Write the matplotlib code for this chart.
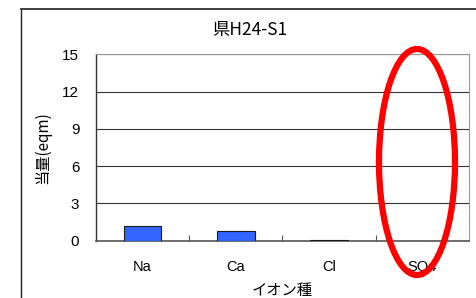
import matplotlib
matplotlib.use("Agg")
import matplotlib.pyplot as plt
from matplotlib.patches import Ellipse
from matplotlib.lines import Line2D

categories = ["Na", "Ca", "Cl", "SO4"]
values = [1.15, 0.8, 0.05, 0.0]
yticks = [0, 3, 6, 9, 12, 15]
title = "県H24-S1"
ylabel = "当量(eqm)"
xlabel = "イオン種"

jp = ["Noto Sans CJK JP", "DejaVu Sans"]
lat = ["Liberation Sans", "DejaVu Sans"]

fig = plt.figure(figsize=(4.77, 2.98), dpi=100)
ax = fig.add_axes([96/477, 1-240.7/298, (469-96)/477, (240.7-54.3)/298])

x = list(range(len(categories)))
ax.bar(x, values, width=0.4, color="#3366FF", edgecolor="#1a1a1a", linewidth=0.8, zorder=3)
ax.set_xlim(-0.5, len(categories)-0.5)
ax.set_ylim(0, 15)
ax.set_yticks(yticks)
ax.set_yticklabels([str(v) for v in yticks], fontfamily=lat, fontsize=11)
ax.yaxis.grid(True, color="#333333", linewidth=0.8)
ax.set_axisbelow(True)

# category boundary ticks
ax.set_xticks([i + 0.5 for i in range(len(categories)-1)], minor=False)
ax.set_xticklabels([])
ax.set_xticks(x, minor=True)
ax.set_xticklabels(categories, minor=True, fontfamily=lat, fontsize=10.5)
ax.tick_params(axis="x", which="major", direction="in", length=4, color="#555555")
ax.tick_params(axis="x", which="minor", length=0, pad=14)
ax.tick_params(axis="y", direction="out", length=0, pad=12)

for s in ["top", "right"]:
    ax.spines[s].set_color("#999999")
    ax.spines[s].set_linewidth(0.8)
ax.spines["bottom"].set_color("#555555")
ax.spines["bottom"].set_linewidth(1.2)
ax.spines["left"].set_color("#333333")
ax.spines["left"].set_linewidth(1.0)

ax.set_ylabel(ylabel, fontfamily=jp, fontsize=11, labelpad=8)
ax.set_xlabel(xlabel, fontfamily=jp, fontsize=11, labelpad=6)
fig.text(250/477, 1-30/298, title, fontfamily=jp, fontsize=12.5, ha="center", va="center")

# outer chart frame (partially visible)
fig.add_artist(Line2D([21/477, 21/477], [0, 1-9/298], transform=fig.transFigure, color="#222222", linewidth=1.0))
fig.add_artist(Line2D([21/477, 1], [1-9/298, 1-9/298], transform=fig.transFigure, color="#333333", linewidth=1.3))

# red highlight ellipse
fig.add_artist(Ellipse((417/477, 1-162/298), 76/477, 226/298, transform=fig.transFigure,
                       fill=False, edgecolor="#FF0000", linewidth=4.5, zorder=10))

fig.savefig("out.png", dpi=100)
